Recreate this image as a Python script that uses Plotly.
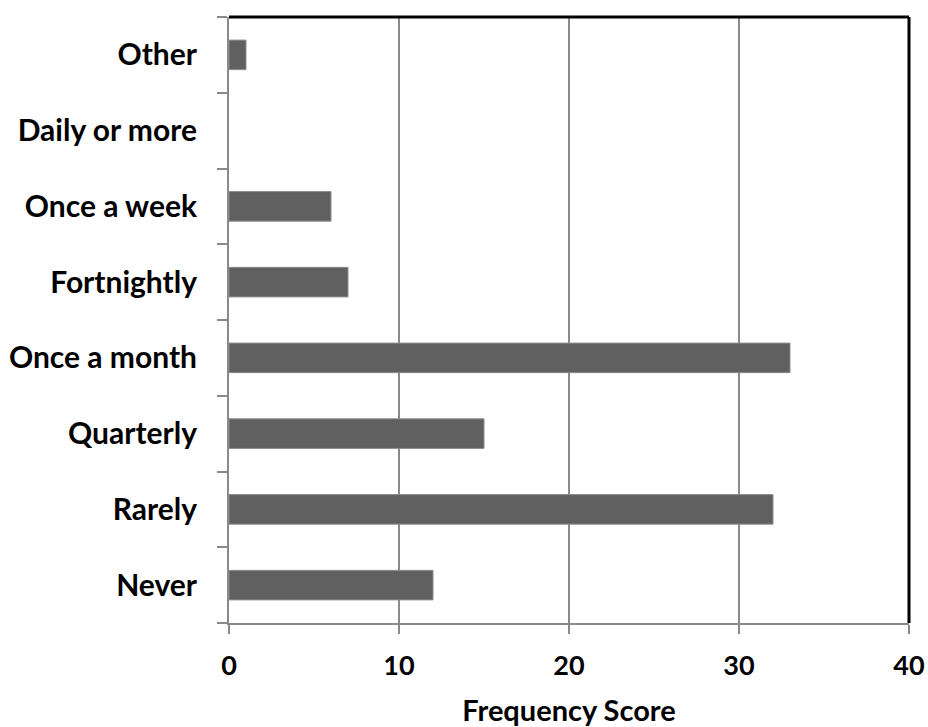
import plotly.graph_objects as go

# Response categories, bottom to top
categories = ["Never", "Rarely", "Quarterly", "Once a month",
              "Fortnightly", "Once a week", "Daily or more", "Other"]
frequency = [12, 32, 15, 33, 7, 6, 0, 1]
x_ticks = [0, 10, 20, 30, 40]

FONT = "Lato, Open Sans, sans-serif"
GREY = "#8a8a8a"

# no outline on empty bars so a zero count leaves nothing drawn
outline_widths = [1 if v > 0 else 0 for v in frequency]

fig = go.Figure(
    go.Bar(
        x=frequency,
        y=categories,
        orientation="h",
        width=0.39,
        marker=dict(color="#606060",
                    line=dict(color="#8c8c8c", width=outline_widths)),
    )
)

fig.update_layout(
    width=928,
    height=727,
    margin=dict(l=229, r=19, t=17, b=104),
    paper_bgcolor="white",
    plot_bgcolor="white",
    showlegend=False,
    font=dict(family=FONT, size=24, color="black"),
    xaxis=dict(
        range=[0, 40],
        tickvals=x_ticks,
        automargin=False,
        showgrid=True,
        gridcolor=GREY,
        gridwidth=2,
        showline=True,
        linecolor=GREY,
        linewidth=2,
        ticks="outside",
        ticklen=9,
        tickwidth=2,
        tickcolor=GREY,
        ticklabelstandoff=9,
        zeroline=False,
        tickfont=dict(family=FONT, size=27, color="black", weight="bold"),
        title=dict(text="<b>Frequency Score</b>",
                   font=dict(family=FONT, size=29, color="black"),
                   standoff=21),
        fixedrange=True,
    ),
    yaxis=dict(
        categoryorder="array",
        categoryarray=categories,
        automargin=False,
        showgrid=False,
        showline=True,
        linecolor=GREY,
        linewidth=2,
        ticks="outside",
        tickson="boundaries",
        ticklen=10,
        tickwidth=2,
        tickcolor=GREY,
        ticklabelstandoff=24,
        tickfont=dict(family=FONT, size=30, color="black", weight="bold"),
        fixedrange=True,
    ),
    shapes=[
        dict(type="line", xref="paper", yref="paper", x0=0, x1=1, y0=1, y1=1,
             line=dict(color="black", width=3)),
        dict(type="line", xref="paper", yref="paper", x0=1, x1=1, y0=0, y1=1,
             line=dict(color="black", width=3)),
    ],
)

fig.write_html("out.html")
